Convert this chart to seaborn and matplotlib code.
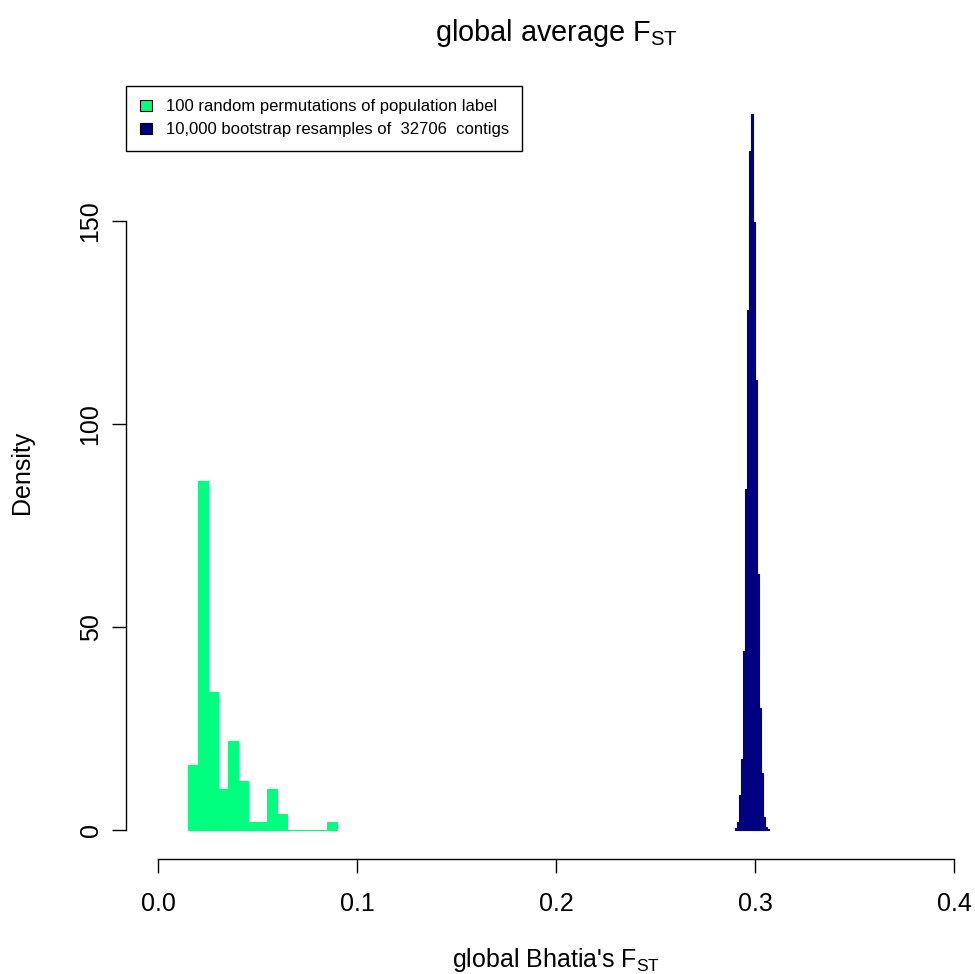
import numpy as np
import matplotlib
matplotlib.use("Agg")
import matplotlib.pyplot as plt
from matplotlib.patches import Patch
import seaborn as sns

# ---- data ----
perm_edges = [0.015, 0.020, 0.025, 0.030, 0.035, 0.040, 0.045, 0.050,
              0.055, 0.060, 0.065, 0.070, 0.075, 0.080, 0.085, 0.090]
perm_counts = [8, 43, 17, 5, 11, 6, 1, 1, 5, 2, 0, 0, 0, 0, 1]

boot_edges = [0.290, 0.291, 0.292, 0.293, 0.294, 0.295, 0.296, 0.297, 0.298,
              0.299, 0.300, 0.301, 0.302, 0.303, 0.304, 0.305, 0.306, 0.307]
boot_counts = [4, 19, 86, 175, 440, 839, 1281, 1673, 1763, 1497, 1109, 631,
               300, 140, 33, 8, 2]

x_ticks = [0.0, 0.1, 0.2, 0.3, 0.4]
x_tick_labels = ["0.0", "0.1", "0.2", "0.3", "0.4"]
y_ticks = [0, 50, 100, 150]
y_tick_labels = ["0", "50", "100", "150"]

legend_labels = ["100 random permutations of population label",
                 "10,000 bootstrap resamples of  32706  contigs"]
perm_color = "#00FF7F"   # springgreen
boot_color = "#000080"   # navy

plt.rcParams["font.family"] = ["Liberation Sans", "DejaVu Sans"]
plt.rcParams["mathtext.fontset"] = "custom"
plt.rcParams["mathtext.rm"] = "Liberation Sans"
plt.rcParams["mathtext.it"] = "Liberation Sans:italic"
plt.rcParams["mathtext.bf"] = "Liberation Sans:bold"

fig = plt.figure(figsize=(9.75, 9.74), dpi=100)
ax = fig.add_axes([0.12943, 0.11848, 0.88174, 0.7932])

pe = np.array(perm_edges)
be = np.array(boot_edges)
sns.histplot(x=(pe[:-1] + pe[1:]) / 2, weights=perm_counts, bins=perm_edges,
             stat="density", color=perm_color, edgecolor=perm_color,
             linewidth=0.8, alpha=1, ax=ax)
sns.histplot(x=(be[:-1] + be[1:]) / 2, weights=boot_counts, bins=boot_edges,
             stat="density", color=boot_color, edgecolor=boot_color,
             linewidth=0.8, alpha=1, ax=ax)

ax.set_xlim(-0.016, 0.416)
ax.set_ylim(-7.05, 183.3)

for s in ["top", "right"]:
    ax.spines[s].set_visible(False)
ax.spines["bottom"].set_bounds(0, 0.4)
ax.spines["left"].set_bounds(0, 150)
for s in ["bottom", "left"]:
    ax.spines[s].set_linewidth(1.0)
    ax.spines[s].set_color("black")

ax.set_xticks(x_ticks)
ax.set_xticklabels(x_tick_labels)
ax.set_yticks(y_ticks)
ax.set_yticklabels(y_tick_labels, rotation=90, va="center")
ax.tick_params(axis="both", length=10, width=1.0, labelsize=18, color="black")
ax.tick_params(axis="x", pad=14)
ax.tick_params(axis="y", pad=7)

ax.set_xlabel(r"global Bhatia's $\mathregular{F_{ST}}$", fontsize=18, va="center")
ax.xaxis.set_label_coords(0.5, -0.131)
ax.set_ylabel("Density", fontsize=18, va="center")
ax.yaxis.set_label_coords(-0.121, 0.5)

ax.set_title(r"global average $\mathregular{F_{ST}}$", fontsize=20.8,
             y=1.069, va="center", pad=0)

handles = [Patch(facecolor=perm_color, edgecolor="black", linewidth=0.8),
           Patch(facecolor=boot_color, edgecolor="black", linewidth=0.8)]
leg = ax.legend(handles, legend_labels, loc="upper left",
                bbox_to_anchor=(0, 1), borderaxespad=0, fontsize=12,
                frameon=True, fancybox=False, framealpha=1,
                handlelength=0.72, handleheight=0.72, handletextpad=0.85,
                borderpad=0.8, labelspacing=0.48)
leg.get_frame().set_edgecolor("black")
leg.get_frame().set_linewidth(1.0)

fig.savefig("out.png", dpi=100)
